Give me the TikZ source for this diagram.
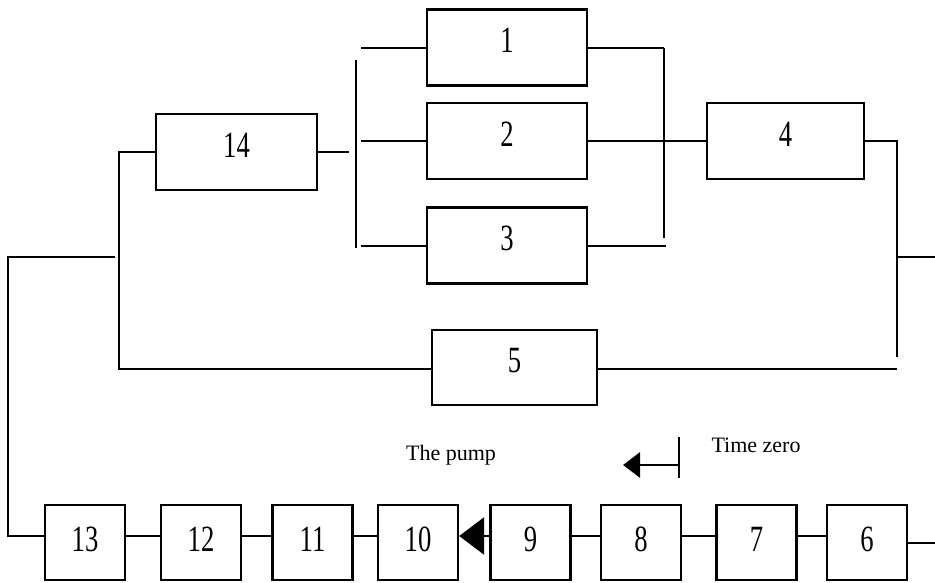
\documentclass[tikz,border=0pt]{standalone}
\usepackage{fontspec}
\usepackage{graphicx}
\setmainfont{Liberation Serif}
\usetikzlibrary{arrows.meta}
\tikzset{
  blk/.style={draw, line width=2.4pt, rectangle, inner sep=0pt},
  wide/.style={blk, minimum width=160pt, minimum height=76pt},
  small/.style={blk, minimum width=80pt, minimum height=75pt},
  wire/.style={line width=2.8pt},
  num/.style={font=\fontsize{37}{37}\selectfont},
  lbl/.style={font=\fontsize{22}{22}\selectfont, inner sep=0pt}
}
\newcommand{\dg}[1]{\scalebox{0.72}[1]{#1}}
\begin{document}
\begin{tikzpicture}[x=1pt, y=-1pt]
\useasboundingbox (0,0) rectangle (935,583);

% parallel block 1-3 and its neighbours
\node[wide] (b1) at (507,47.5) {};
\node[wide] (b2) at (507,141) {};
\node[wide] (b3) at (507,245.5) {};
\node[wide, minimum width=157pt] (b4) at (785.5,141) {};
\node[wide, minimum width=161pt] (b14) at (236.5,152) {};
\node[wide, minimum width=165pt, minimum height=75pt] (b5) at (514.5,367.5) {};

% series chain 13 ... 6
\node[small] (b13) at (85,542.5) {};
\node[small] (b12) at (201,542.5) {};
\node[small] (b11) at (312.5,542.5) {};
\node[small] (b10) at (418,542.5) {};
\node[small] (b9) at (530.5,542.5) {};
\node[small] (b8) at (641,542.5) {};
\node[small] (b7) at (756.5,542.5) {};
\node[small] (b6) at (867,542.5) {};

% block labels
\foreach \b/\t in {b1/1,b2/2,b3/3,b4/4,b14/14,b5/5}
  \node[num] at ([yshift=7pt]\b.center) {\dg{\t}};
\foreach \b/\t in {b13/13,b12/12,b11/11,b10/10,b9/9,b8/8,b7/7,b6/6}
  \node[num] at ([yshift=3pt]\b.center) {\dg{\t}};

% buses of the parallel block
\coordinate (lbT) at (356,60);
\coordinate (lbB) at (356,248);
\coordinate (rbT) at (664,48);
\coordinate (rbB) at (664,238);
\draw[wire, line width=2.4pt] (lbT) -- (lbB);
\draw[wire, line width=2.4pt] (rbT) -- (rbB);

\draw[wire] (361,48) -- (b1.west |- 0,48);
\draw[wire] (361,141) -- (b2.west);
\draw[wire] (361,246) -- (b3.west |- 0,246);
\draw[wire] (b1.east |- 0,48) -- (rbT);
\draw[wire] (b2.east) -- (b4.west);
\draw[wire] (b3.east |- 0,246) -- (666,246);

% block 14 and its branch
\coordinate (lj) at (119,152);
\coordinate (lj2) at (119,369);
\draw[wire] (b14.east) -- (349,152);
\draw[wire] (b14.west) -- (lj) -- (lj2) -- (b5.west |- 0,369);

% right side junction
\coordinate (rj) at (897,141);
\coordinate (rj2) at (897,357);
\coordinate (rout) at (935,257);
\draw[wire] (b4.east) -- (rj) -- (rj2);
\draw[wire] (897,257) -- (rout);
\draw[wire] (b5.east |- 0,369) -- (897,369);

% return loop to the series chain
\coordinate (lp) at (115,257);
\draw[wire] (lp) -- (8,257) -- (8,536) -- (b13.west |- 0,536);

% series connections
\draw[wire] (b13.east |- 0,536) -- (b12.west |- 0,536);
\draw[wire] (b12.east |- 0,536) -- (b11.west |- 0,536);
\draw[wire] (b11.east |- 0,536) -- (b10.west |- 0,536);
\draw[wire, -{Triangle[length=25pt,width=37pt]}] (b9.west |- 0,536) -- (b10.east |- 0,536);
\draw[wire] (b9.east |- 0,536) -- (b8.west |- 0,536);
\draw[wire] (b8.east |- 0,536) -- (b7.west |- 0,536);
\draw[wire] (b7.east |- 0,536) -- (b6.west |- 0,536);
\draw[wire] (b6.east |- 0,543) -- (935,543);

% time zero marker
\coordinate (tzT) at (679,437);
\coordinate (tzB) at (679,478);
\coordinate (tzA) at (623,465);
\draw[wire] (tzT) -- (tzB);
\draw[wire, -{Triangle[length=17pt,width=25pt]}] (679,465) -- (tzA);

% annotations
\node[lbl] (pump) at (451,455) {The pump};
\node[lbl] (tz) at (756,445) {Time zero};
\end{tikzpicture}
\end{document}
